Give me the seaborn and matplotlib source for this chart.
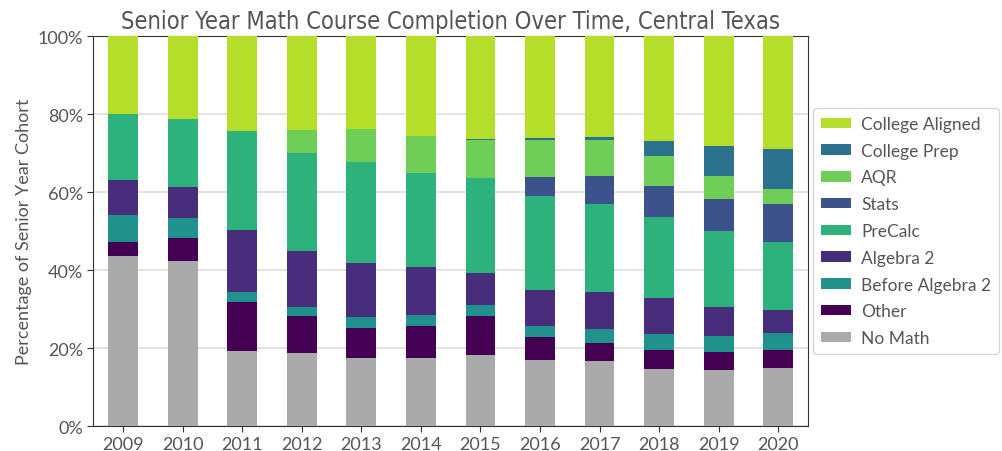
import numpy as np
import pandas as pd
import matplotlib
matplotlib.use("Agg")
import matplotlib.pyplot as plt
import seaborn as sns
from matplotlib.ticker import PercentFormatter

years = [2009, 2010, 2011, 2012, 2013, 2014, 2015, 2016, 2017, 2018, 2019, 2020]
no_math = [43.7, 42.3, 19.3, 18.7, 17.5, 17.5, 18.1, 17.0, 16.7, 14.7, 14.4, 15.0]
other = [3.6, 5.9, 12.6, 9.6, 7.7, 8.2, 10.2, 5.7, 4.7, 4.9, 4.7, 4.5]
before_alg2 = [6.9, 5.2, 2.5, 2.3, 2.8, 2.7, 2.7, 2.9, 3.4, 4.1, 4.0, 4.3]
algebra2 = [8.9, 8.0, 15.8, 14.3, 13.8, 12.3, 8.2, 9.4, 9.5, 9.1, 7.5, 5.9]
precalc = [16.9, 17.2, 25.5, 25.2, 25.9, 24.1, 24.5, 24.0, 22.7, 20.8, 19.5, 17.5]
stats = [0, 0, 0, 0, 0, 0, 0, 4.9, 7.0, 8.0, 8.1, 9.6]
aqr = [0, 0, 0, 5.8, 8.5, 9.6, 9.7, 9.5, 9.4, 7.6, 5.9, 3.9]
college_prep = [0, 0, 0, 0, 0, 0, 0.3, 0.5, 0.6, 4.0, 7.8, 10.3]
college_aligned = [20.0, 21.4, 24.3, 24.1, 23.8, 25.6, 26.3, 26.1, 26.0, 26.8, 28.1, 29.0]

categories = ["College Aligned", "College Prep", "AQR", "Stats", "PreCalc",
              "Algebra 2", "Before Algebra 2", "Other", "No Math"]
colors = ["#b5de2b", "#2c728e", "#6ece58", "#3b528b", "#2db27d",
          "#472d7b", "#21918c", "#440154", "#aaaaaa"]

series = {
    "College Aligned": college_aligned, "College Prep": college_prep, "AQR": aqr,
    "Stats": stats, "PreCalc": precalc, "Algebra 2": algebra2,
    "Before Algebra 2": before_alg2, "Other": other, "No Math": no_math,
}
rows = []
for cat in categories:
    for y, v in zip(years, series[cat]):
        rows.append({"year": y, "course": cat, "pct": v / 100.0})
df = pd.DataFrame(rows)

sns.set_style("ticks")
plt.rcParams["font.family"] = ["Lato", "DejaVu Sans"]
gray = "#555555"

fig = plt.figure(figsize=(10.03, 4.52), dpi=100)
ax = fig.add_axes([0.093, 0.0553, 0.7126, 0.8628])

sns.histplot(data=df, x="year", weights="pct", hue="course", hue_order=categories,
             palette=dict(zip(categories, colors)), multiple="stack", discrete=True,
             shrink=0.5, linewidth=0, alpha=1, ax=ax, legend=True, zorder=3)

ax.set_xlim(2008.5, 2020.5)
ax.set_ylim(0, 1)
ax.set_xticks(years)
ax.set_xticklabels([str(y) for y in years])
ax.set_yticks(np.arange(0, 1.01, 0.2))
ax.yaxis.set_major_formatter(PercentFormatter(1.0, decimals=0))
ax.yaxis.grid(True, color="#dddddd", linewidth=1.2, zorder=0)
ax.set_axisbelow(True)
for s in ax.spines.values():
    s.set_visible(True)
    s.set_color("#333333")
ax.tick_params(axis="both", colors="#333333", labelcolor=gray, labelsize=13, length=4)
ax.set_xlabel("")
ax.set_ylabel("Percentage of Senior Year Cohort", color=gray, fontsize=13)
ax.set_title("Senior Year Math Course Completion Over Time, Central Texas",
             color=gray, fontsize=17, pad=6,
             family=["DejaVu Sans"], fontstretch="condensed")

sns.move_legend(ax, "center left", bbox_to_anchor=(1.0, 0.5), title=None,
                frameon=True, fontsize=12.5, handlelength=1.7, handleheight=0.55,
                handletextpad=0.6, labelspacing=0.62, borderpad=0.45,
                borderaxespad=0.3)
leg = ax.get_legend()
for t in leg.get_texts():
    t.set_color(gray)
leg.get_frame().set_edgecolor("#cccccc")

fig.savefig("out.png", dpi=100)
